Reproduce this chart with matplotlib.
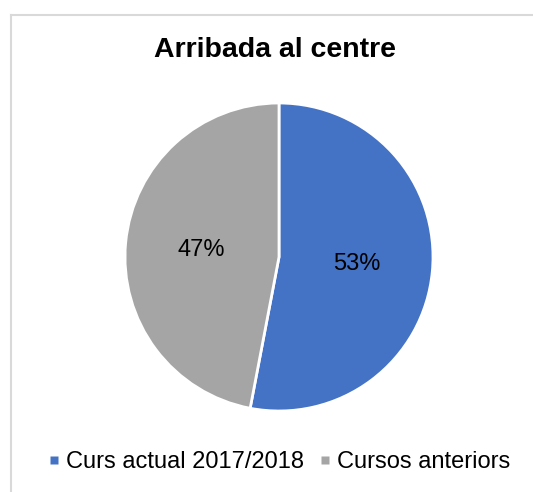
import matplotlib
matplotlib.use("Agg")
import matplotlib.pyplot as plt
from matplotlib.lines import Line2D

plt.rcParams['font.family'] = ['Liberation Sans', 'DejaVu Sans']

title = "Arribada al centre"
categories = ["Curs actual 2017/2018", "Cursos anteriors"]
values = [53, 47]
colors = ["#4472C4", "#A5A5A5"]

W, H = 533, 492
fig = plt.figure(figsize=(W / 100, H / 100), dpi=100)

# chart border (top and left edges visible)
fig.add_artist(Line2D([11 / W, 11 / W], [0, 1 - 15 / H], transform=fig.transFigure,
                      color="#D9D9D9", lw=1.5))
fig.add_artist(Line2D([11 / W, 1], [1 - 15 / H, 1 - 15 / H], transform=fig.transFigure,
                      color="#D9D9D9", lw=1.5))

cx, cy, r = 279, 257, 154
ax = fig.add_axes([(cx - r) / W, 1 - (cy + r) / H, 2 * r / W, 2 * r / H])
wedges, texts, autotexts = ax.pie(values, colors=colors, startangle=90, counterclock=False,
                                  autopct=lambda p: f"{p:.0f}%", pctdistance=0.51,
                                  wedgeprops=dict(edgecolor="white", linewidth=2),
                                  textprops=dict(fontsize=17, color="#000000"),
                                  radius=1.0)
ax.set_xlim(-1.0, 1.0)
ax.set_ylim(-1.0, 1.0)
ax.set_aspect("equal")
ax.axis("off")

fig.text(275 / W, 1 - 50 / H, title, ha="center", va="center", fontsize=20.5,
         fontweight="bold", color="#000000")

handles = [Line2D([], [], marker="s", markersize=5.8, linestyle="none",
                  markerfacecolor=c, markeredgecolor="none") for c in colors]
fig.legend(handles, categories, loc="center", bbox_to_anchor=(280 / W, 1 - 462 / H),
           ncol=2, frameon=False, fontsize=17, handlelength=0.4,
           handletextpad=0.3, columnspacing=0.7, borderpad=0, borderaxespad=0)

fig.savefig("out.png", dpi=100)
